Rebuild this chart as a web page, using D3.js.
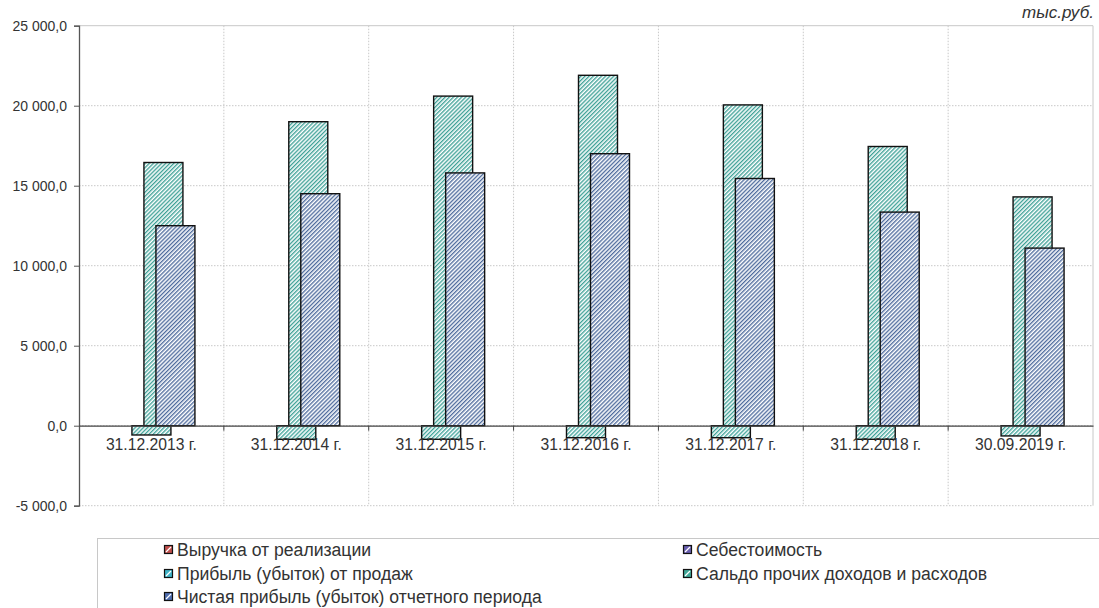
<!DOCTYPE html>
<html>
<head>
<meta charset="utf-8">
<title>Финансовые результаты</title>
<script src="https://cdn.jsdelivr.net/npm/d3@7"></script>
<style>
  body { margin: 0; background: #fff; }
  svg { display: block; font-family: "Liberation Sans", Arial, sans-serif; }
</style>
</head>
<body>
<script>
// data, тыс.руб.
const categories = ["31.12.2013 г.", "31.12.2014 г.", "31.12.2015 г.", "31.12.2016 г.", "31.12.2017 г.", "31.12.2018 г.", "30.09.2019 г."];
const seriesNames = ["Выручка от реализации", "Себестоимость", "Прибыль (убыток) от продаж", "Сальдо прочих доходов и расходов", "Чистая прибыль (убыток) отчетного периода"];
const revenue = [0, 0, 0, 0, 0, 0, 0];
const cost = [0, 0, 0, 0, 0, 0, 0];
const salesProfit = [-580, -850, -850, -750, -750, -850, -640];
const otherBalance = [16450, 19000, 20600, 21900, 20050, 17450, 14300];
const netProfit = [12500, 14500, 15800, 17000, 15450, 13350, 11100];
const yTicks = [-5000, 0, 5000, 10000, 15000, 20000, 25000];

const seriesValues = [revenue, cost, salesProfit, otherBalance, netProfit];
const hatchColors = ["#c0504d", "#5a50a8", "#2f9c92", "#2f9a8f", "#3f5f95"];
const legendColors = ["#c0504d", "#6a5fb0", "#40b4c8", "#40a898", "#4f6eb0"];

const W = 1099, H = 608;
const plot = { left: 79, right: 1093, top: 25.7, bottom: 505.7 };
const barW = 39;

const svg = d3.select("body").append("svg")
    .attr("width", W)
    .attr("height", H);

// hatch patterns
const defs = svg.append("defs");
hatchColors.forEach((c, i) => {
    const p = defs.append("pattern")
        .attr("id", "hatch" + i)
        .attr("patternUnits", "userSpaceOnUse")
        .attr("width", 2.9)
        .attr("height", 2.9)
        .attr("patternTransform", "rotate(45)");
    p.append("rect").attr("width", 2.9).attr("height", 2.9).attr("fill", "#fff");
    p.append("line")
        .attr("x1", 0.7).attr("y1", 0)
        .attr("x2", 0.7).attr("y2", 2.9)
        .attr("stroke", c)
        .attr("stroke-width", 1.25);
});

const x0 = d3.scaleBand()
    .domain(categories)
    .range([plot.left, plot.right])
    .paddingInner(0)
    .paddingOuter(0);
const x1 = d3.scalePoint()
    .domain(d3.range(seriesNames.length))
    .range([-24, 24]);
const y = d3.scaleLinear()
    .domain([-5000, 25000])
    .range([plot.bottom, plot.top]);

// gridlines
svg.append("g")
    .selectAll("line")
    .data(yTicks)
    .join("line")
    .attr("x1", plot.left).attr("x2", plot.right)
    .attr("y1", d => y(d)).attr("y2", d => y(d))
    .attr("stroke", "#c8c8c8")
    .attr("stroke-dasharray", d => d === 25000 ? null : "1.5,1.5")
    .attr("stroke-width", 1);

svg.append("g")
    .selectAll("line")
    .data(categories.slice(1).concat(["end"]))
    .join("line")
    .attr("x1", d => d === "end" ? plot.right : x0(d))
    .attr("x2", d => d === "end" ? plot.right : x0(d))
    .attr("y1", plot.top).attr("y2", plot.bottom)
    .attr("stroke", "#c8c8c8")
    .attr("stroke-dasharray", d => d === "end" ? null : "1.5,1.5");

// bars
const bars = [];
seriesValues.forEach((vals, s) => {
    vals.forEach((v, i) => {
        if (v !== 0) bars.push({ s: s, cat: categories[i], v: v });
    });
});

svg.append("g")
    .selectAll("rect")
    .data(bars)
    .join("rect")
    .attr("x", d => x0(d.cat) + x0.bandwidth() / 2 + x1(d.s) - barW / 2)
    .attr("width", barW)
    .attr("y", d => y(Math.max(0, d.v)))
    .attr("height", d => Math.abs(y(d.v) - y(0)))
    .attr("fill", d => "url(#hatch" + d.s + ")")
    .attr("stroke", "#111")
    .attr("stroke-width", 1.4);

// y axis
const yAxis = svg.append("g")
    .attr("transform", "translate(" + plot.left + ",0)")
    .call(d3.axisLeft(y)
        .tickValues(yTicks)
        .tickSize(5)
        .tickPadding(7)
        .tickFormat(d => d3.format(",.1f")(d).replace(/,/g, " ").replace(".", ",").replace("−", "-")));
yAxis.attr("font-size", 14).attr("font-family", null);
yAxis.select(".domain").attr("stroke", "#555").attr("stroke-width", 1.3);
yAxis.selectAll(".tick line").attr("stroke", "#555");
yAxis.selectAll(".tick text").attr("fill", "#333");

// x axis at zero, labels drawn separately
const xAxis = svg.append("g")
    .attr("transform", "translate(0," + y(0) + ")")
    .call(d3.axisBottom(x0).tickSize(0).tickFormat(""));
xAxis.select(".domain").attr("stroke", "#444").attr("stroke-width", 1.3);
xAxis.selectAll(".boundary")
    .data(categories.slice(1))
    .join("line")
    .attr("class", "boundary")
    .attr("x1", d => x0(d)).attr("x2", d => x0(d))
    .attr("y1", 0).attr("y2", 5)
    .attr("stroke", "#444");

svg.append("g")
    .selectAll("text")
    .data(categories)
    .join("text")
    .attr("x", d => x0(d) + x0.bandwidth() / 2)
    .attr("y", y(0) + 24)
    .attr("text-anchor", "middle")
    .attr("font-size", 15.7)
    .attr("fill", "#333")
    .text(d => d);

// unit label
svg.append("text")
    .attr("x", 1094)
    .attr("y", 18)
    .attr("text-anchor", "end")
    .style("font-size", "17px")
    .style("font-style", "italic")
    .attr("fill", "#333")
    .text("тыс.руб.");

// legend
const legend = svg.append("g").attr("id", "legend");
legend.append("rect")
    .attr("x", 97.5).attr("y", 538.5)
    .attr("width", 1010).attr("height", 90)
    .attr("fill", "#fff")
    .attr("stroke", "#c8c8c8");

const legendPos = [[164, 550], [683, 550], [164, 574], [683, 574], [164, 597]];
const items = legend.selectAll("g.item")
    .data(seriesNames)
    .join("g")
    .attr("class", "item")
    .attr("transform", (d, i) => "translate(" + legendPos[i][0] + "," + legendPos[i][1] + ")");
items.append("rect")
    .attr("x", 0.5).attr("y", -4.5)
    .attr("width", 8).attr("height", 8)
    .attr("fill", (d, i) => legendColors[i])
    .attr("stroke", "#111")
    .attr("stroke-width", 1.2);
items.append("line")
    .attr("x1", 2).attr("y1", 2)
    .attr("x2", 7).attr("y2", -3)
    .attr("stroke", "#fff")
    .attr("stroke-width", 1.3);
items.append("text")
    .attr("x", 13)
    .attr("y", 5.5)
    .attr("fill", "#333")
    .style("font-size", "17.6px")
    .text(d => d);
</script>
</body>
</html>
